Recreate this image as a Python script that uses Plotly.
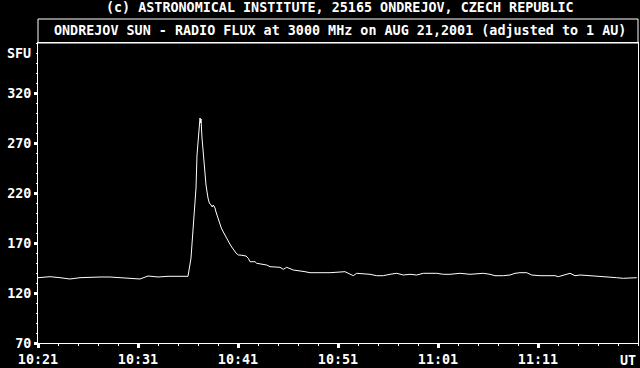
import plotly.graph_objects as go

# minutes after 10:21 UT
minutes = [0, 0.7, 1.2, 2.2, 3.2, 4.2, 5.2, 6.2, 7.2, 8.2, 9.2, 10.2, 11.0, 12.0, 13.0, 14.0, 15.0,
           15.3, 15.4, 15.6, 15.8, 15.9, 16.1, 16.2, 16.27, 16.3, 16.4, 16.53, 16.63, 16.8, 17.0,
           17.13, 17.3, 17.43, 17.53, 17.7, 17.8, 17.97, 18.13, 18.33, 18.53, 18.73, 18.93, 19.13,
           19.37, 19.6, 19.8, 20.03, 20.2, 20.8, 21.03, 21.2, 21.7, 21.87, 22.53, 22.87, 23.2, 24.2,
           24.53, 24.87, 25.53, 26.2, 26.7, 27.2, 28.2, 29.2, 30.7, 31.03, 31.53, 31.87, 33.2, 33.87,
           34.53, 35.2, 35.87, 36.53, 37.2, 37.87, 38.53, 39.87, 40.53, 41.2, 42.2, 43.2, 44.53,
           45.2, 45.7, 46.53, 47.2, 47.7, 48.2, 48.87, 49.37, 50.2, 51.7, 52.03, 52.7, 53.2, 53.7,
           54.2, 55.2, 56.2, 57.2, 57.87, 58.53, 59.2, 59.87]
flux = [135.3, 136.0, 136.3, 135.3, 134.0, 135.3, 136.0, 136.0, 136.0, 135.3, 134.0, 134.0, 137.0,
        136.0, 136.7, 137.0, 136.7,
        155, 168, 201, 225, 258, 288, 295, 290, 294, 275, 258, 241, 228, 215,
        210, 208, 206, 208, 205, 201, 196, 190, 185, 181, 177, 173, 170,
        166, 162, 160, 158, 158, 157, 154.7, 151.3, 151.3, 149.7, 149, 148, 146.3, 145.7,
        143.7, 145.7, 143, 142.3, 141.3, 140.3, 140.3, 140.3, 141.3, 139.7, 137.3, 139.7, 138.7, 137.3,
        137.3, 138.7, 139.7, 138, 138.7, 138, 139.7, 139.7, 138.7, 138.7, 139.7, 138.7, 139.7,
        138.7, 137.3, 137.3, 138, 139.7, 140.3, 140.3, 138, 137.3, 137.3, 136.3, 138, 139.7, 137.3,
        138, 137.3, 136.7, 136.3, 135.3, 134.7, 135.3, 135.3]

x_tickvals = [0, 10, 20, 30, 40, 50]
x_ticktext = ["10:21", "10:31", "10:41", "10:51", "11:01", "11:11"]
y_tickvals = [70, 120, 170, 220, 270, 320]
y_ticktext = ["70", "120", "170", "220", "270", "320"]

credit = "(c) ASTRONOMICAL INSTITUTE, 25165 ONDREJOV, CZECH REPUBLIC"
title = "ONDREJOV SUN - RADIO FLUX at 3000 MHz on AUG 21,2001 (adjusted to 1 AU)"

FONT = dict(family="DejaVu Sans Mono", size=13.4, color="white", weight="bold")

fig = go.Figure()
fig.add_trace(go.Scatter(x=minutes, y=flux, mode="lines",
                         line=dict(color="white", width=1), showlegend=False,
                         hoverinfo="skip"))

fig.update_layout(
    width=640, height=368,
    paper_bgcolor="black", plot_bgcolor="black",
    margin=dict(l=38, r=2, t=43, b=25),
    font=FONT,
    xaxis=dict(range=[0, 60], tickvals=x_tickvals, ticktext=x_ticktext,
               showline=True, linecolor="white", linewidth=1, mirror=True,
               ticks="outside", ticklen=4, tickwidth=3, tickcolor="white",
               minor=dict(ticks="outside", dtick=2, tick0=0, ticklen=2, tickwidth=1,
                          tickcolor="white", showgrid=False),
               showgrid=False, zeroline=False, tickfont=FONT),
    xaxis2=dict(range=[0, 60], overlaying="x", side="top", tickvals=x_tickvals,
                showticklabels=False, ticks="inside", ticklen=3, tickwidth=1,
                tickcolor="white",
                minor=dict(ticks="inside", dtick=2, tick0=0, ticklen=2, tickwidth=1,
                           tickcolor="white", showgrid=False),
                showgrid=False, zeroline=False, showline=False),
    yaxis=dict(range=[70, 370], tickvals=y_tickvals, ticktext=y_ticktext,
               showline=True, linecolor="white", linewidth=1, mirror=True,
               ticks="outside", ticklen=3, tickwidth=3, tickcolor="white",
               minor=dict(ticks="outside", dtick=10, tick0=70, ticklen=1, tickwidth=1,
                          tickcolor="white", showgrid=False),
               showgrid=False, zeroline=False, tickfont=FONT),
    shapes=[dict(type="rect", xref="paper", yref="paper", x0=0, x1=1,
                 y0=1, y1=1 + 24 / 300, line=dict(color="white", width=1))],
    annotations=[
        dict(text=credit, xref="paper", yref="paper", x=0.503, y=(343 - 8) / 300,
             showarrow=False, xanchor="center", yanchor="middle", font=FONT),
        dict(text=title, xref="paper", yref="paper", x=0.503, y=(343 - 31) / 300,
             showarrow=False, xanchor="center", yanchor="middle", font=FONT),
        dict(text="SFU", xref="paper", yref="y", x=0, y=360, xshift=-5,
             showarrow=False, xanchor="right", yanchor="middle", font=FONT),
        dict(text="UT", xref="paper", yref="paper", x=1, y=(343 - 360) / 300,
             showarrow=False, xanchor="right", yanchor="middle", font=FONT),
    ],
)

fig.write_html("out.html")
